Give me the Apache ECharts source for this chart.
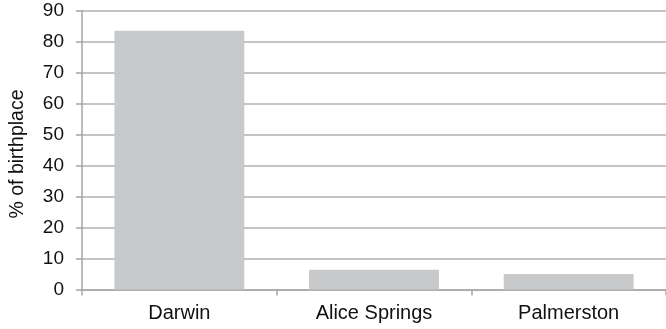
<!DOCTYPE html>
<html>
<head>
<meta charset="utf-8">
<script src="https://cdn.jsdelivr.net/npm/echarts@6/dist/echarts.min.js"></script>
<style>
html,body{margin:0;padding:0;background:#fff;}
#c{width:666px;height:329px;}
</style>
</head>
<body>
<div id="c"></div>
<script>
var categories = ['Darwin', 'Alice Springs', 'Palmerston'];
var values = [83.5, 6.4, 5.0];
var yTicks = [0, 10, 20, 30, 40, 50, 60, 70, 80, 90];

var chart = echarts.init(document.getElementById('c'), null, {renderer: 'canvas'});
chart.setOption({
  animation: false,
  grid: {left: 81, right: -4, top: 10.5, bottom: 39.5, containLabel: false},
  xAxis: {
    type: 'category',
    data: categories,
    boundaryGap: true,
    axisLine: {show: true, lineStyle: {color: '#a6a6a6', width: 1.5}},
    axisTick: {show: true, length: 6, lineStyle: {color: '#a6a6a6', width: 1.5}},
    axisLabel: {color: '#111', fontFamily: 'Liberation Sans', fontSize: 20, margin: 14},
    splitLine: {show: false}
  },
  yAxis: {
    type: 'value',
    min: yTicks[0],
    max: yTicks[yTicks.length - 1],
    interval: 10,
    name: '% of birthplace',
    nameLocation: 'middle',
    nameGap: 54,
    nameTextStyle: {color: '#111', fontFamily: 'Liberation Sans', fontSize: 19.5, padding: [0, 8, 0, 0]},
    axisLine: {show: true, lineStyle: {color: '#a6a6a6', width: 1.5}},
    axisTick: {show: true, length: 6, lineStyle: {color: '#a6a6a6', width: 1.5}},
    axisLabel: {color: '#111', fontFamily: 'Liberation Sans', fontSize: 19, margin: 18},
    splitLine: {show: true, lineStyle: {color: '#b0b0b0', width: 1.5}}
  },
  series: [{
    type: 'bar',
    data: values,
    barWidth: '66.7%',
    itemStyle: {color: '#c8c9cb'}
  }]
});
</script>
</body>
</html>
